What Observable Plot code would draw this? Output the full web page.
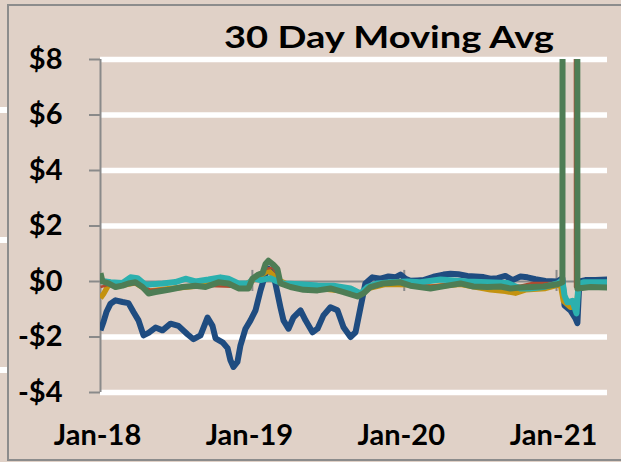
<!DOCTYPE html>
<html><head><meta charset="utf-8">
<script src="https://cdn.jsdelivr.net/npm/d3@7"></script>
<script src="https://cdn.jsdelivr.net/npm/@observablehq/plot@0.6"></script>
<style>
html,body{margin:0;padding:0;background:#e0d1c7;}
#wrap{position:relative;width:621px;height:462px;overflow:hidden;background:#e0d1c7;}
.border{position:absolute;left:7px;top:4px;width:660px;height:457px;box-sizing:border-box;border:2px solid #8c8c8c;pointer-events:none;}
.stub{position:absolute;left:0;width:7px;height:6px;background:#fff;}
#wrap svg{position:absolute;left:0;top:0;}
</style></head><body>
<div id="wrap">
  <div class="stub" style="top:107px"></div>
  <div class="stub" style="top:237px"></div>
  <div class="stub" style="top:367px"></div>
</div>
<script>
// Title and tick labels
const chartTitle = "30 Day Moving Avg";
const yTicks = [-4, -2, 0, 2, 4, 6, 8];
const yTickLabels = ["-$4", "-$2", "$0", "$2", "$4", "$6", "$8"];
const xTickYears = [2018, 2019, 2020, 2021];
const xTickLabels = ["Jan-18", "Jan-19", "Jan-20", "Jan-21"];
const xEnd = 2021.336; // decimal year where the data ends

// Series: [decimal year, value in $]
const seriesBlue = [
  [2018.000,-1.76],[2018.020,-1.45],[2018.039,-1.10],[2018.066,-0.80],[2018.099,-0.68],
  [2018.145,-0.74],[2018.184,-0.78],[2018.217,-1.10],[2018.250,-1.40],[2018.283,-1.94],
  [2018.316,-1.85],[2018.362,-1.66],[2018.408,-1.76],[2018.461,-1.52],[2018.513,-1.60],
  [2018.572,-1.90],[2018.612,-2.08],[2018.658,-1.94],[2018.704,-1.30],[2018.737,-1.60],
  [2018.757,-2.05],[2018.803,-2.19],[2018.836,-2.40],[2018.855,-2.84],[2018.875,-3.08],
  [2018.901,-2.90],[2018.921,-2.30],[2018.954,-1.70],[2018.987,-1.40],[2019.020,-1.04],
  [2019.053,-0.32],[2019.086,0.28],[2019.105,0.46],[2019.132,0.28],[2019.151,-0.07],
  [2019.184,-0.93],[2019.204,-1.40],[2019.237,-1.70],[2019.270,-1.29],[2019.316,-1.04],
  [2019.349,-1.40],[2019.395,-1.83],[2019.428,-1.70],[2019.467,-1.22],[2019.513,-0.93],
  [2019.559,-1.04],[2019.599,-1.65],[2019.645,-2.00],[2019.678,-1.83],[2019.711,-0.93],
  [2019.743,-0.07],[2019.789,0.15],[2019.842,0.10],[2019.895,0.18],[2019.941,0.15],
  [2019.974,0.25],[2020.007,0.10],[2020.039,0.03],[2020.086,0.04],[2020.125,0.05],
  [2020.191,0.17],[2020.257,0.25],[2020.303,0.28],[2020.355,0.26],[2020.414,0.20],
  [2020.467,0.18],[2020.520,0.16],[2020.566,0.10],[2020.612,0.12],[2020.664,0.20],
  [2020.711,0.05],[2020.763,0.18],[2020.809,0.15],[2020.862,0.08],[2020.928,0.02],
  [2021.007,0.00],[2021.039,0.12],[2021.053,-0.86],[2021.092,-1.04],[2021.125,-1.33],
  [2021.138,-1.50],[2021.151,0.00],[2021.191,0.05],[2021.257,0.05],[2021.336,0.07]
];
const seriesGold = [
  [2018.000,-0.60],[2018.020,-0.45],[2018.053,-0.12],[2018.132,-0.15],[2018.230,-0.05],
  [2018.316,-0.35],[2018.461,-0.25],[2018.658,-0.15],[2018.789,-0.05],[2018.921,-0.20],
  [2019.020,0.10],[2019.105,0.40],[2019.171,0.05],[2019.250,-0.15],[2019.447,-0.25],
  [2019.612,-0.35],[2019.691,-0.50],[2019.763,-0.25],[2019.875,-0.10],[2020.039,-0.12],
  [2020.171,-0.20],[2020.368,-0.10],[2020.566,-0.30],[2020.664,-0.35],[2020.730,-0.42],
  [2020.796,-0.30],[2020.928,-0.25],[2021.026,-0.10],[2021.046,-0.70],[2021.092,-0.93],
  [2021.132,-0.90],[2021.145,-0.20],[2021.336,-0.15]
];
const seriesRed = [
  [2018.000,-0.20],[2018.066,-0.10],[2018.263,-0.10],[2018.329,-0.30],[2018.658,-0.15],
  [2018.921,-0.20],[2019.020,0.10],[2019.086,0.45],[2019.132,0.50],[2019.171,0.20],
  [2019.197,-0.10],[2019.513,-0.25],[2019.691,-0.45],[2019.776,-0.15],[2019.974,-0.05],
  [2020.171,-0.15],[2020.368,-0.05],[2020.566,-0.10],[2020.763,-0.15],[2020.842,-0.05],
  [2021.026,-0.05],[2021.0395,-0.05],[2021.043,40],[2021.1191,40],[2021.1224,-0.20],
  [2021.336,-0.15]
];
const seriesTeal = [
  [2018.000,0.03],[2018.066,-0.03],[2018.145,-0.05],[2018.197,0.15],[2018.243,0.12],
  [2018.296,-0.12],[2018.408,-0.07],[2018.493,-0.02],[2018.559,0.10],[2018.625,0.00],
  [2018.711,0.07],[2018.789,0.15],[2018.842,0.10],[2018.908,-0.07],[2018.974,-0.07],
  [2019.007,0.12],[2019.053,0.05],[2019.118,0.12],[2019.164,0.00],[2019.204,-0.07],
  [2019.316,-0.10],[2019.428,-0.14],[2019.533,-0.15],[2019.645,-0.25],[2019.711,-0.43],
  [2019.757,-0.20],[2019.822,-0.07],[2019.908,-0.03],[2020.020,0.00],[2020.105,-0.03],
  [2020.237,0.07],[2020.414,0.00],[2020.546,-0.03],[2020.678,-0.05],[2020.763,-0.25],
  [2020.829,-0.25],[2020.914,-0.20],[2021.007,-0.07],[2021.039,0.05],[2021.053,-0.50],
  [2021.072,-0.75],[2021.105,-0.70],[2021.132,-1.15],[2021.145,-0.10],[2021.178,-0.03],
  [2021.336,-0.03]
];
const seriesGreen = [
  [2018.000,0.30],[2018.013,0.00],[2018.053,-0.07],[2018.099,-0.20],[2018.145,-0.15],
  [2018.184,-0.07],[2018.230,-0.03],[2018.276,-0.20],[2018.316,-0.43],[2018.362,-0.38],
  [2018.447,-0.30],[2018.539,-0.20],[2018.625,-0.15],[2018.691,-0.20],[2018.776,-0.03],
  [2018.842,-0.07],[2018.908,-0.25],[2018.974,-0.25],[2019.000,0.10],[2019.039,0.25],
  [2019.066,0.30],[2019.086,0.63],[2019.105,0.75],[2019.138,0.60],[2019.164,0.45],
  [2019.184,-0.07],[2019.250,-0.20],[2019.336,-0.30],[2019.428,-0.32],[2019.513,-0.25],
  [2019.599,-0.38],[2019.691,-0.54],[2019.730,-0.43],[2019.776,-0.20],[2019.862,-0.07],
  [2019.974,-0.03],[2020.039,-0.15],[2020.171,-0.25],[2020.283,-0.15],[2020.368,-0.07],
  [2020.454,-0.18],[2020.546,-0.20],[2020.632,-0.18],[2020.697,-0.25],[2020.763,-0.22],
  [2020.914,-0.18],[2021.007,-0.10],[2021.0395,-0.03],[2021.043,40],[2021.1355,40],
  [2021.138,-0.25],[2021.224,-0.20],[2021.336,-0.22]
];

const colors = {blue: "#1f4c80", gold: "#c3920f", red: "#b04a30", teal: "#2bb0ae", green: "#4e7d55"};

const t0 = Date.UTC(2018, 0, 1);
const toDate = t => new Date(t0 + (t - 2018) * 365.25 * 864e5);
const rows = s => s.map(([t, v]) => ({date: toDate(t), value: v}));
const yearDates = xTickYears.map(y => new Date(Date.UTC(y, 0, 1)));
const axisGray = "#8a8a8a";
const font = "Lato, 'Open Sans', sans-serif";

const line = (s, color, w) => Plot.line(rows(s), {x: "date", y: "value", stroke: color, strokeWidth: w, clip: true, strokeLinejoin: "round", strokeLinecap: "butt"});

const chart = Plot.plot({
  width: 621,
  height: 462,
  marginLeft: 100,
  marginRight: 14,
  marginTop: 59,
  marginBottom: 70,
  style: {fontFamily: font, fontWeight: "bold", background: "transparent", color: "black"},
  x: {type: "utc", domain: [toDate(2018), toDate(xEnd)]},
  y: {domain: [-4, 8]},
  marks: [
    Plot.ruleY(yTicks.filter(d => d !== 0), {stroke: "white", strokeWidth: 5.5}),
    Plot.ruleY([0], {stroke: axisGray, strokeWidth: 2}),
    Plot.ruleX(yearDates.slice(1), {y1: -0.36, y2: 0.4, stroke: axisGray, strokeWidth: 2}),
    Plot.ruleX([toDate(2018)], {y1: -4, y2: 8, stroke: axisGray, strokeWidth: 2}),
    line(seriesBlue, colors.blue, 6),
    line(seriesGold, colors.gold, 5.5),
    line(seriesRed, colors.red, 2.5),
    line(seriesTeal, colors.teal, 6),
    line(seriesGreen, colors.green, 6),
    Plot.axisY({ticks: yTicks, tickFormat: d => yTickLabels[yTicks.indexOf(d)], tickSize: 11, tickPadding: 27, stroke: axisGray, strokeWidth: 2, fill: "black", fontSize: 29, fontWeight: "bold", label: null}),
    Plot.axisX({ticks: yearDates, tickFormat: d => xTickLabels[xTickYears.indexOf(d.getUTCFullYear())], tickSize: 0, tickPadding: 32, fill: "black", fontSize: 29, fontWeight: "bold", dx: -3, label: null}),
    Plot.text([chartTitle], {text: d => d, frameAnchor: "top", dx: 35, dy: -12, lineAnchor: "bottom", fontSize: 31, fontWeight: "bold", fill: "black"})
  ]
});
// widen the title glyphs to the reference's span
d3.select(chart).selectAll('g[aria-label="text"] text')
  .attr("textLength", 330).attr("lengthAdjust", "spacingAndGlyphs");
const wrap = document.getElementById("wrap");
wrap.insertBefore(chart, wrap.firstChild);
const b = document.createElement("div");
b.className = "border";
wrap.appendChild(b);
</script></body></html>
